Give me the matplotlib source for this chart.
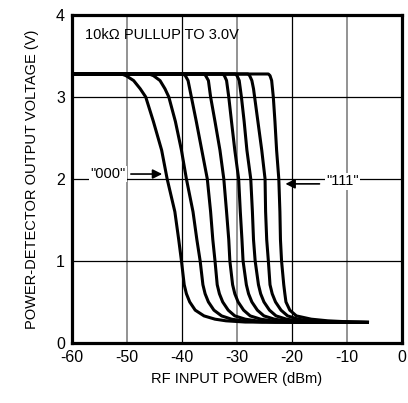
import matplotlib
matplotlib.use("Agg")
import matplotlib.pyplot as plt

plt.rcParams['font.family'] = ['Liberation Sans', 'DejaVu Sans']
plt.rcParams['axes.unicode_minus'] = False

# voltage levels at which the x positions of each curve were read
y_levels = [3.28, 3.26, 3.2, 3.1, 3.0, 2.7, 2.35, 2.0, 1.6, 1.26, 1.0, 0.71, 0.6, 0.5, 0.4, 0.33, 0.29, 0.27, 0.255]

# RF input power (dBm) of each curve at those levels
x_000 = [-51.0, -50.2, -48.8, -47.6, -46.6, -45.2, -43.7, -42.7, -41.3, -40.6, -40.1, -39.6, -39.2, -38.6, -37.6, -36.0, -34.0, -32.0, -28.5]
x_001 = [-46.0, -45.2, -44.0, -43.1, -42.4, -41.2, -40.1, -39.2, -38.0, -37.3, -36.7, -36.2, -35.8, -35.2, -34.2, -32.8, -31.0, -29.0, -25.5]
x_010 = [-39.8, -39.4, -38.9, -38.6, -38.3, -37.4, -36.4, -35.4, -34.8, -34.4, -34.0, -33.6, -33.2, -32.6, -31.6, -30.4, -28.5, -26.5, -23.0]
x_011 = [-36.0, -35.7, -35.2, -35.0, -34.8, -34.0, -33.1, -32.4, -31.9, -31.5, -31.3, -30.8, -30.4, -29.8, -28.8, -27.6, -25.7, -23.7, -20.0]
x_100 = [-32.6, -32.3, -31.9, -31.7, -31.5, -31.0, -30.4, -29.7, -29.4, -29.1, -28.9, -28.3, -27.9, -27.3, -26.3, -25.1, -23.2, -21.2, -17.5]
x_101 = [-30.3, -30.0, -29.6, -29.4, -29.2, -28.7, -28.2, -27.5, -27.2, -27.0, -26.7, -26.1, -25.7, -25.1, -24.1, -22.9, -21.0, -19.0, -15.3]
x_110 = [-28.0, -27.7, -27.3, -27.0, -26.8, -26.2, -25.5, -24.9, -24.8, -24.6, -24.3, -24.0, -23.6, -23.0, -22.0, -20.8, -18.9, -16.9, -13.2]
x_111 = [-24.3, -24.0, -23.7, -23.55, -23.4, -23.1, -22.8, -22.4, -22.2, -22.1, -21.9, -21.5, -21.3, -21.1, -20.4, -19.2, -16.5, -13.5, -9.0]

curves = [x_000, x_001, x_010, x_011, x_100, x_101, x_110, x_111]

# common start / end of all curves
x_start, y_high = -60, 3.28
x_end, y_low = -6, 0.25

xticks = [-60, -50, -40, -30, -20, -10, 0]
yticks = [0, 1, 2, 3, 4]

fig = plt.figure(figsize=(4.08, 4.03), dpi=100)
ax = fig.add_axes([0.1765, 0.149, 0.8088, 0.8139])

# grid: alternating gray / black verticals, black horizontals
for xv in [-50, -30, -10]:
    ax.axvline(xv, color='#8a8a8a', lw=1.3, zorder=1)
for xv in [-40, -20]:
    ax.axvline(xv, color='black', lw=0.9, zorder=1)
for yv in [1, 2, 3]:
    ax.axhline(yv, color='black', lw=0.9, zorder=1)

for xs in curves:
    ax.plot([x_start] + xs + [x_end], [y_high] + y_levels + [y_low],
            color='black', lw=2.2, solid_joinstyle='round', solid_capstyle='butt', zorder=3)

ax.set_xlim(-60, 0)
ax.set_ylim(0, 4)
ax.set_xticks(xticks)
ax.set_yticks(yticks)
ax.tick_params(length=0, labelsize=11.5, pad=5)
for s in ax.spines.values():
    s.set_linewidth(2.3)
    s.set_zorder(5)

ax.set_xlabel('RF INPUT POWER (dBm)', fontsize=10.5, labelpad=5)
ax.set_ylabel('POWER-DETECTOR OUTPUT VOLTAGE (V)', fontsize=10.5, labelpad=12)

ax.text(-57.7, 3.76, '10k\u03a9 PULLUP TO 3.0V', fontsize=10.5, va='center', ha='left', zorder=4)

white = dict(facecolor='white', edgecolor='none', pad=1)
ax.text(-56.7, 2.06, '"000"', fontsize=10.5, va='center', ha='left', bbox=white, zorder=4)
ax.annotate('', xy=(-43.1, 2.06), xytext=(-49.8, 2.06),
            arrowprops=dict(arrowstyle='-|>', color='black', lw=1.2, mutation_scale=14), zorder=4)
ax.text(-13.8, 1.97, '"111"', fontsize=10.5, va='center', ha='left', bbox=white, zorder=4)
ax.annotate('', xy=(-21.7, 1.94), xytext=(-14.5, 1.94),
            arrowprops=dict(arrowstyle='-|>', color='black', lw=1.2, mutation_scale=14), zorder=4)

fig.savefig('out.png', dpi=100)
